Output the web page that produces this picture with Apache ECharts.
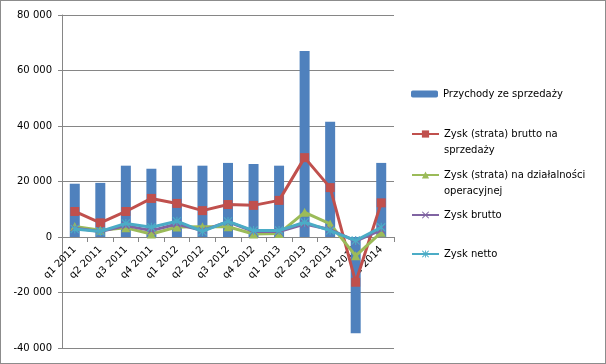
<!DOCTYPE html>
<html>
<head>
<meta charset="utf-8">
<script src="https://cdn.jsdelivr.net/npm/echarts@6/dist/echarts.min.js"></script>
<style>
html,body{margin:0;padding:0;background:#fff;}
#c{width:606px;height:364px;box-sizing:border-box;border:1px solid #8c8c8c;}
</style>
</head>
<body>
<div id="c"></div>
<script>
const categories = ['q1 2011','q2 2011','q3 2011','q4 2011','q1 2012','q2 2012','q3 2012','q4 2012','q1 2013','q2 2013','q3 2013','q4 2013','q1 2014'];
const revenue = [19200, 19500, 25700, 24600, 25700, 25700, 26700, 26300, 25700, 67000, 41500, -34700, 26700];
const grossSalesProfit = [9200, 5100, 9200, 13900, 12100, 9500, 11700, 11400, 13200, 28600, 17800, -16300, 12300];
const operatingProfit = [3800, 2400, 3300, 1100, 3600, 3700, 3700, 1100, 1300, 8900, 4700, -6800, 1700];
const grossProfit = [3200, 2000, 4100, 2300, 4700, 2300, 5500, 2000, 2000, 4700, 2700, -1500, 2600];
const netProfit = [2900, 2000, 4900, 3500, 5700, 2000, 5600, 2300, 2300, 5300, 2300, -1300, 3500];
const names = ['Przychody ze sprzedaży','Zysk (strata) brutto na sprzedaży','Zysk (strata) na działalności operacyjnej','Zysk brutto','Zysk netto'];
const legendLabels = ['Przychody ze sprzedaży',' \nZysk (strata) brutto na\nsprzedaży',' \nZysk (strata) na działalności\noperacyjnej','Zysk brutto','Zysk netto'];

const FONT = 'DejaVu Sans';
const xPath = 'path://M1,0 L5,4 L9,0 L10,1 L6,5 L10,9 L9,10 L5,6 L1,10 L0,9 L4,5 L0,1 Z';
const starPath = 'path://M1,0 L5,4 L9,0 L10,1 L6,5 L10,9 L9,10 L5,6 L1,10 L0,9 L4,5 L0,1 Z M4.4,0 L5.6,0 L5.6,10 L4.4,10 Z';

const Y_MIN = -40000, Y_MAX = 80000;

function fmt(v){
  if (v === 0) return '0';
  const s = Math.abs(v).toString().replace(/\B(?=(\d{3})+(?!\d))/g, ' ');
  return (v < 0 ? '-' : '') + s;
}

const GRID_TOP = 14, GRID_BOTTOM = 15, CH = 362;
const plotH = CH - GRID_TOP - GRID_BOTTOM;
const zeroOffset = -plotH * (0 - Y_MIN) / (Y_MAX - Y_MIN);

const legendTops = [85, 109, 150, 206, 245];
const legends = names.map((n, i) => ({
  data: [n],
  left: 410,
  top: legendTops[i],
  orient: 'vertical',
  padding: 0,
  itemWidth: 27,
  itemHeight: i === 0 ? 7 : 9,
  itemGap: 0,
  selectedMode: false,
  formatter: () => legendLabels[i],
  textStyle: {fontFamily: FONT, fontSize: 10, color: '#000', lineHeight: 16}
}));

const chart = echarts.init(document.getElementById('c'), null, {renderer: 'canvas'});
chart.setOption({
  animation: false,
  textStyle: {fontFamily: FONT},
  legend: legends,
  grid: {left: 61, right: 211, top: GRID_TOP, bottom: GRID_BOTTOM, containLabel: false, outerBoundsMode: 'none'},
  xAxis: {
    type: 'category',
    data: categories,
    boundaryGap: true,
    offset: zeroOffset,
    axisLine: {onZero: false, lineStyle: {color: '#868686', width: 1}},
    axisTick: {show: true, alignWithLabel: false, length: 5, lineStyle: {color: '#868686'}},
    axisLabel: {rotate: 45, fontFamily: FONT, fontSize: 10, color: '#000', margin: 11, interval: 0},
    splitLine: {show: false}
  },
  yAxis: {
    type: 'value',
    min: Y_MIN, max: Y_MAX, interval: 20000,
    axisLine: {show: true, lineStyle: {color: '#868686', width: 1}},
    axisTick: {show: true, length: 4, lineStyle: {color: '#868686'}},
    axisLabel: {formatter: fmt, fontFamily: FONT, fontSize: 10, color: '#000', margin: 10},
    splitLine: {show: true, lineStyle: {color: '#868686', width: 1}}
  },
  series: [
    {name: names[0], type: 'bar', data: revenue, barWidth: 10, itemStyle: {color: '#4F81BD'}, z: 1},
    {name: names[1], type: 'line', data: grossSalesProfit, symbol: 'rect', symbolSize: 9,
      lineStyle: {color: '#C0504D', width: 3}, itemStyle: {color: '#C0504D'}, z: 2},
    {name: names[2], type: 'line', data: operatingProfit, symbol: 'triangle', symbolSize: 9,
      lineStyle: {color: '#9BBB59', width: 3}, itemStyle: {color: '#9BBB59'}, z: 3},
    {name: names[3], type: 'line', data: grossProfit, symbol: xPath, symbolSize: 8,
      lineStyle: {color: '#8064A2', width: 3}, itemStyle: {color: '#8064A2'}, z: 4},
    {name: names[4], type: 'line', data: netProfit, symbol: starPath, symbolSize: 9,
      lineStyle: {color: '#4BACC6', width: 3}, itemStyle: {color: '#4BACC6'}, z: 5}
  ]
});
</script>
</body>
</html>
